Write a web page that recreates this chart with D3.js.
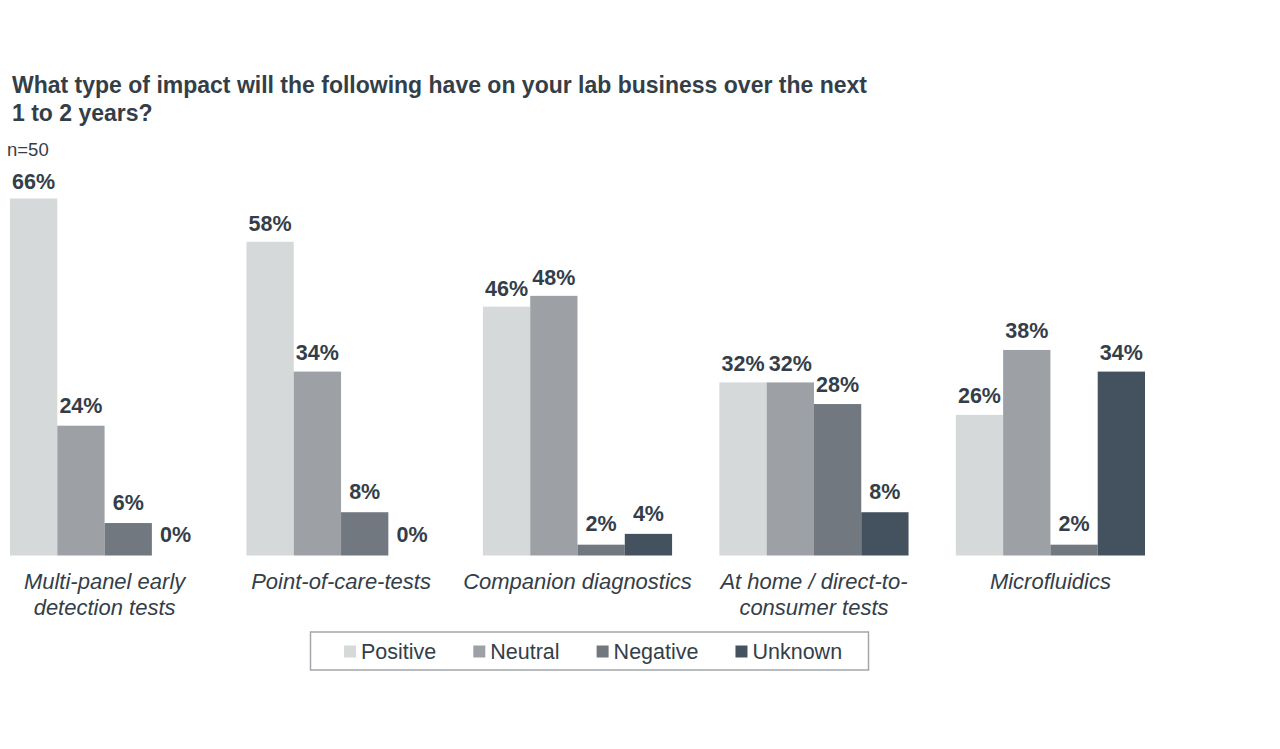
<!DOCTYPE html>
<html>
<head>
<meta charset="utf-8">
<script src="https://cdn.jsdelivr.net/npm/d3@7"></script>
<style>
  body { margin: 0; background: #fff; }
  svg { display: block; font-family: "Liberation Sans", Arial, sans-serif; }
</style>
</head>
<body>
<svg id="chart"></svg>
<script>
// данные графика
const categories = [
  "Multi-panel early\ndetection tests",
  "Point-of-care-tests",
  "Companion diagnostics",
  "At home / direct-to-\nconsumer tests",
  "Microfluidics"
];
const seriesNames = ["Positive", "Neutral", "Negative", "Unknown"];
const positive = [66, 58, 46, 32, 26];
const neutral = [24, 34, 48, 32, 38];
const negative = [6, 8, 2, 28, 2];
const unknown = [0, 0, 4, 8, 34];
const colors = ["#d5d9da", "#9da1a5", "#717880", "#44525f"];

const textColor = "#343e48";
const width = 1280, height = 749;

let svg = d3.select("#chart").attr("width", width).attr("height", height);

const seriesValues = [positive, neutral, negative, unknown];
// строки таблицы: по одной на категорию
let rows = categories.map(function (c, i) {
  return { cat: c, values: seriesNames.map(function (s, j) { return { key: s, value: seriesValues[j][i] }; }) };
});

// шкалы
let x0 = d3.scaleBand().domain(categories).range([10, 1145]).paddingInner(0.2).paddingOuter(0);
let x1 = d3.scaleBand().domain(seriesNames).range([0, x0.bandwidth()]);
let y = d3.scaleLinear().domain([0, 66]).range([555.5, 198.5]);
// базовая линия подписей значений (чуть сжатая относительно столбцов)
let yLabel = d3.scaleLinear().domain([0, 66]).range([542, 188.5]);
let color = d3.scaleOrdinal().domain(seriesNames).range(colors);

// заголовок
svg.append("text")
  .attr("x", 12).attr("y", 93)
  .attr("font-size", 23).attr("font-weight", "bold").attr("fill", textColor)
  .text("What type of impact will the following have on your lab business over the next");
svg.append("text")
  .attr("x", 12).attr("y", 121)
  .attr("font-size", 23).attr("font-weight", "bold").attr("fill", textColor)
  .text("1 to 2 years?");
svg.append("text")
  .attr("x", 7).attr("y", 156)
  .attr("font-size", 18.5).attr("fill", textColor)
  .text("n=50");

// группы столбцов
let groups = svg.selectAll("g.group")
  .data(rows)
  .enter()
  .append("g")
  .attr("class", "group")
  .attr("transform", function (d) { return "translate(" + x0(d.cat) + ",0)"; });

groups.selectAll("rect")
  .data(function (d) { return d.values; })
  .enter()
  .append("rect")
  .attr("x", function (d) { return x1(d.key); })
  .attr("width", x1.bandwidth())
  .attr("y", function (d) { return y(d.value); })
  .attr("height", function (d) { return y(0) - y(d.value); })
  .attr("fill", function (d) { return color(d.key); });

groups.selectAll("text.val")
  .data(function (d) { return d.values; })
  .enter()
  .append("text")
  .attr("class", "val")
  .attr("x", function (d) { return x1(d.key) + x1.bandwidth() / 2; })
  .attr("y", function (d) { return yLabel(d.value); })
  .attr("text-anchor", "middle")
  .attr("font-size", 21.5).attr("font-weight", "bold").attr("fill", textColor)
  .text(function (d) { return d.value + "%"; });

// подписи категорий
let catLabels = groups.append("text")
  .attr("text-anchor", "middle")
  .attr("font-size", 22).attr("font-style", "italic").attr("fill", textColor)
  .attr("transform", "translate(" + x0.bandwidth() / 2 + ",588.5)");
catLabels.selectAll("tspan")
  .data(function (d) { return d.cat.split("\n"); })
  .enter()
  .append("tspan")
  .attr("x", 0)
  .attr("dy", function (d, i) { return i === 0 ? 0 : 26; })
  .text(function (d) { return d; });

// легенда
let legend = svg.append("g");
legend.append("rect")
  .attr("x", 310.5).attr("y", 632).attr("width", 558).attr("height", 38)
  .attr("fill", "#fff").attr("stroke", "#a3a7ab").attr("stroke-width", 1.5);

let items = legend.selectAll("g.item")
  .data(seriesNames)
  .enter()
  .append("g")
  .attr("class", "item");
items.append("rect")
  .attr("width", 12).attr("height", 12).attr("y", 645.5)
  .attr("fill", function (d) { return color(d); });
items.append("text")
  .attr("x", 17).attr("y", 659)
  .attr("font-size", 21.5).attr("fill", textColor)
  .text(function (d) { return d; });

// раскладка легенды по ширине текста
let widths = [];
items.each(function () { widths.push(17 + d3.select(this).select("text").node().getComputedTextLength()); });
let gap = 37;
let cx = 344;
items.attr("transform", function (d, i) {
  let t = "translate(" + cx + ",0)";
  cx += widths[i] + gap;
  return t;
});
</script>
</body>
</html>
